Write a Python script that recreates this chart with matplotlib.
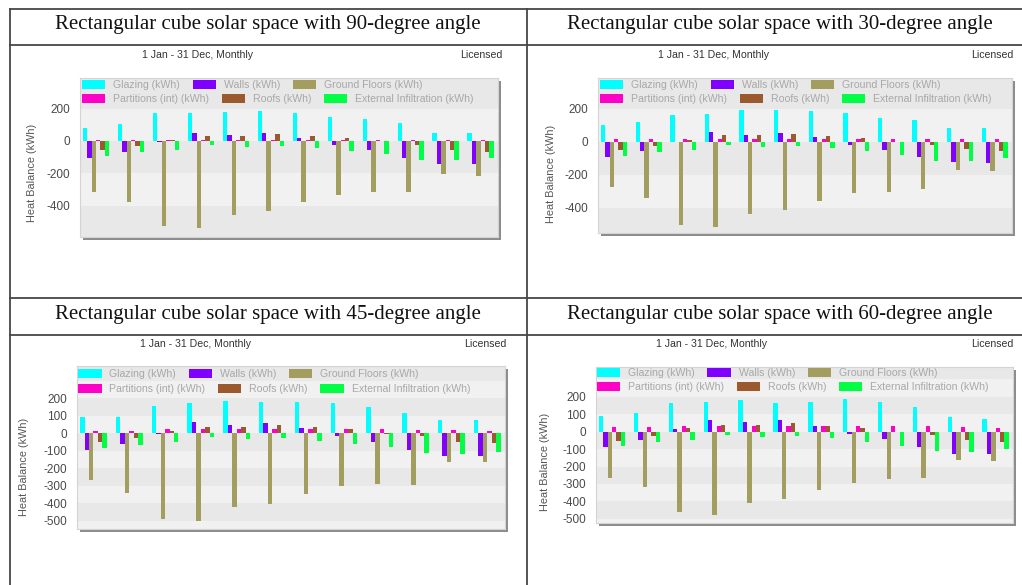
import matplotlib
matplotlib.use("Agg")
import matplotlib.pyplot as plt
from matplotlib.patches import Rectangle, Patch
from matplotlib.lines import Line2D
import numpy as np

plt.rcParams['axes.unicode_minus'] = False
plt.rcParams['font.family'] = ['Liberation Sans', 'DejaVu Sans']

months = ["Jan", "Feb", "Mar", "Apr", "May", "Jun", "Jul", "Aug", "Sep", "Oct", "Nov", "Dec"]
series_names = ["Glazing (kWh)", "Walls (kWh)", "Ground Floors (kWh)",
                "Partitions (int) (kWh)", "Roofs (kWh)", "External Infiltration (kWh)"]
series_colors = ["#00ffff", "#8000ff", "#a39e60", "#ff00c8", "#9a5a2e", "#00ff44"]

titles = ["Rectangular cube solar space with 90-degree angle",
          "Rectangular cube solar space with 30-degree angle",
          "Rectangular cube solar space with 45-degree angle",
          "Rectangular cube solar space with 60-degree angle"]
header_text = "1 Jan - 31 Dec, Monthly"
license_text = "Licensed"
ylabel_text = "Heat Balance (kWh)"

# ---- 90-degree ----
glazing_90 = [78, 104, 173, 173, 180, 184, 170, 149, 135, 112, 51, 47]
walls_90 = [-106, -69, -5, 47, 37, 51, 20, -27, -55, -102, -141, -143]
ground_90 = [-316, -375, -524, -537, -457, -433, -375, -333, -316, -316, -204, -214]
partitions_90 = [8, 8, 8, 5, 5, 5, 5, 8, 8, 8, 8, 5]
roofs_90 = [-55, -31, 5, 33, 33, 41, 31, 20, -3, -24, -55, -65]
infil_90 = [-92, -65, -55, -27, -35, -31, -41, -61, -82, -116, -120, -106]

# ---- 30-degree ----
glazing_30 = [101, 118, 162, 168, 189, 189, 187, 172, 146, 132, 85, 81]
walls_30 = [-91, -57, -3, 57, 41, 55, 30, -20, -51, -91, -126, -132]
ground_30 = [-274, -341, -503, -517, -436, -416, -361, -314, -304, -290, -172, -178]
partitions_30 = [16, 14, 16, 16, 16, 16, 16, 16, 16, 16, 16, 14]
roofs_30 = [-51, -26, 10, 41, 41, 47, 37, 24, -2, -20, -47, -57]
infil_30 = [-85, -61, -51, -20, -30, -26, -37, -57, -81, -116, -116, -101]

# ---- 45-degree ----
glazing_45 = [91, 95, 156, 171, 184, 181, 181, 175, 152, 118, 76, 76]
walls_45 = [-95, -61, -5, 61, 48, 57, 29, -15, -48, -99, -129, -129]
ground_45 = [-270, -342, -490, -500, -422, -403, -346, -304, -289, -295, -167, -167]
partitions_45 = [15, 15, 23, 23, 23, 23, 23, 23, 23, 20, 18, 15]
roofs_45 = [-53, -29, 15, 38, 38, 44, 34, 23, -2, -15, -48, -57]
infil_45 = [-86, -67, -53, -23, -32, -29, -42, -61, -80, -114, -118, -105]

# ---- 60-degree ----
glazing_60 = [90, 106, 167, 173, 179, 167, 173, 188, 173, 140, 83, 71]
walls_60 = [-90, -48, 15, 67, 54, 67, 33, -13, -44, -86, -129, -129]
ground_60 = [-263, -320, -461, -480, -409, -386, -332, -292, -274, -265, -163, -167]
partitions_60 = [25, 25, 35, 35, 35, 30, 33, 35, 33, 33, 25, 22]
roofs_60 = [-52, -25, 19, 38, 38, 48, 35, 23, -2, -19, -48, -58]
infil_60 = [-83, -61, -48, -19, -29, -25, -38, -58, -81, -111, -115, -102]

panel_series = [
    [glazing_90, walls_90, ground_90, partitions_90, roofs_90, infil_90],
    [glazing_30, walls_30, ground_30, partitions_30, roofs_30, infil_30],
    [glazing_45, walls_45, ground_45, partitions_45, roofs_45, infil_45],
    [glazing_60, walls_60, ground_60, partitions_60, roofs_60, infil_60],
]

W, H = 1022, 585
fig = plt.figure(figsize=(W / 100, H / 100), dpi=100)
fig.patch.set_facecolor("white")


def fx(px):
    return px / W


def fy(py):
    return 1 - py / H


# layout (pixels): axes rect (left, top, right, bottom)
axes_px = [(80, 78, 498, 237), (598, 78, 1012, 233), (77, 366, 505, 529), (596, 367, 1013, 523)]
ylims = [(-593, 389), (-554, 386), (-548, 384), (-524, 371)]
yticks = [[200, 0, -200, -400], [200, 0, -200, -400],
          [200, 100, 0, -100, -200, -300, -400, -500], [200, 100, 0, -100, -200, -300, -400, -500]]
title_pos = [(268, 24), (780, 24), (268, 314), (780, 314)]
header_pos = [(197, 55), (713, 55), (195, 344), (711, 344)]
license_pos = [(502, 55), (1013, 55), (506, 344), (1013, 344)]
ylabel_pos = [(-0.103, 0.40), (-0.101, 0.383), (-0.112, 0.38), (-0.110, 0.39)]
legend_pos = [(0.005, 0.956, 0.868), (0.005, 0.955, 0.865), (0.003, 0.951, 0.859), (0.002, 0.962, 0.872)]

# table lines
line_kw = dict(transform=fig.transFigure, color="#474747", lw=1.3)
for y in [9, 45, 298, 335]:
    fig.add_artist(Line2D([fx(10), fx(1022)], [fy(y), fy(y)], **line_kw))
for x in [10, 527]:
    fig.add_artist(Line2D([fx(x), fx(x)], [fy(9), fy(585)], **line_kw))

x = np.arange(len(months))
bw = 0.125
n_series = len(series_names)

for p in range(4):
    l, t, r, b = axes_px[p]
    # drop shadow
    fig.add_artist(Rectangle((fx(l + 3), fy(b + 3)), (r - l) / W, (b - t) / H,
                             transform=fig.transFigure, facecolor="#8c8c8c",
                             edgecolor="none", zorder=-1))
    ax = fig.add_axes([fx(l), fy(b), (r - l) / W, (b - t) / H])
    ax.set_facecolor("#ededed")
    lo, hi = ylims[p]
    ticks = yticks[p]
    step = abs(ticks[0] - ticks[1])
    k0 = int(np.floor(lo / step)) - 1
    k1 = int(np.ceil(hi / step)) + 1
    for k in range(k0, k1):
        c = "#f1f1f1" if k % 2 == 0 else "#e8e8e8"
        ax.axhspan(k * step, (k + 1) * step, color=c, lw=0, zorder=0)
    for s in range(n_series):
        offs = -0.375 + bw * s + bw / 2
        ax.bar(x + offs, panel_series[p][s], width=bw, color=series_colors[s],
               edgecolor="none", zorder=2)
    ax.set_xlim(-0.46, 11.5)
    ax.set_ylim(lo, hi)
    ax.set_yticks(ticks)
    ax.set_xticks([])
    ax.tick_params(axis="y", length=0, pad=7, labelsize=8.5, labelcolor="#4a4a4a")
    for sp in ax.spines.values():
        sp.set_color("#d4d4d4")
        sp.set_linewidth(0.8)
    ax.set_ylabel(ylabel_text, fontsize=7.8, color="#555555")
    ax.yaxis.set_label_coords(*ylabel_pos[p])

    # legend: two flowing rows
    lx, ly1, ly2 = legend_pos[p]
    handles = [Patch(facecolor=c, edgecolor="none") for c in series_colors]
    leg_kw = dict(ncol=3, frameon=False, fontsize=7.6, handlelength=2.2,
                  handleheight=0.95, handletextpad=0.75, columnspacing=1.2,
                  borderpad=0, borderaxespad=0, labelcolor="#a8a8a8", loc="center left")
    leg1 = ax.legend(handles[0:3], series_names[0:3], bbox_to_anchor=(lx, ly1), **leg_kw)
    ax.add_artist(leg1)
    ax.legend(handles[3:6], series_names[3:6], bbox_to_anchor=(lx, ly2), **leg_kw)

    fig.text(fx(title_pos[p][0]), fy(title_pos[p][1]), titles[p], ha="center", va="center",
             fontsize=15, family="Liberation Serif", color="#111111")
    fig.text(fx(header_pos[p][0]), fy(header_pos[p][1]), header_text, ha="center", va="center",
             fontsize=7.6, color="#333333")
    fig.text(fx(license_pos[p][0]), fy(license_pos[p][1]), license_text, ha="right", va="center",
             fontsize=7.6, color="#333333")

fig.savefig("out.png", dpi=100, facecolor="white")
